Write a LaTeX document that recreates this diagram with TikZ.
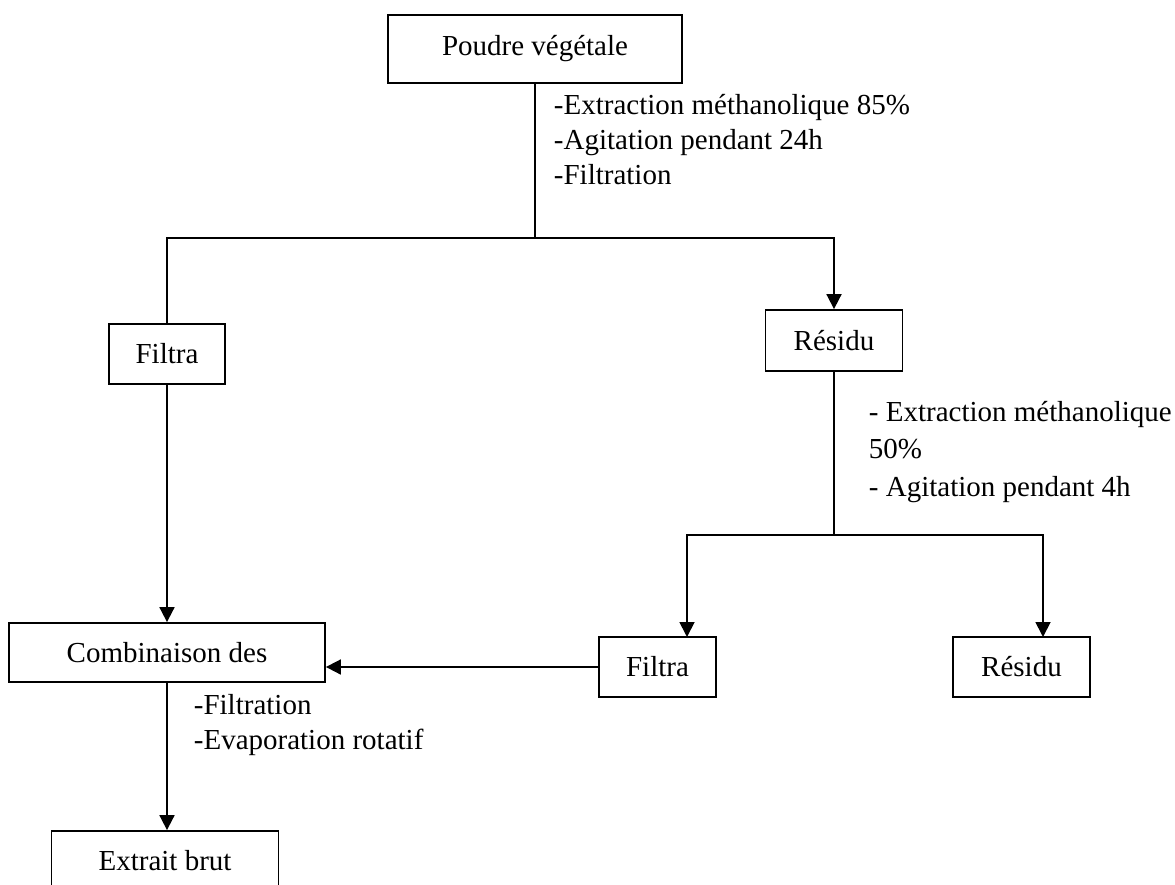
\documentclass[tikz,border=0pt]{standalone}
\usepackage{fontspec}
\setmainfont{Liberation Serif}
\usetikzlibrary{arrows.meta}

\begin{document}
\begin{tikzpicture}[x=1pt, y=-1pt, line width=1.8pt,
  box/.style={draw, inner sep=0pt, minimum height=60pt, font=\fontsize{29}{35}\selectfont},
  lab/.style={anchor=west, align=left, inner sep=0pt, font=\fontsize{29}{35}\selectfont},
  arr/.style={-{Triangle[width=15pt,length=15pt]}}]
  \useasboundingbox (0,0) rectangle (1175,885);

  % boites
  \node[box, minimum width=294pt, minimum height=68pt] (poudre) at (535,49) {Poudre végétale};
  \node[box, minimum width=116pt] (filtraA) at (167,354) {Filtra};
  \node[box, minimum width=137pt, minimum height=61pt] (residuA) at (834,340.5) {Résidu};
  \node[box, minimum width=316pt, minimum height=59pt] (combi) at (167,652.5) {Combinaison des};
  \node[box, minimum width=117pt] (filtraB) at (657.5,667) {Filtra};
  \node[box, minimum width=137pt] (residuB) at (1021.5,667) {Résidu};
  \node[box, minimum width=227pt] (extrait) at (165,861) {Extrait brut};

  % points de partage
  \coordinate (s1) at (535,238);
  \coordinate (s2) at (834,535);
  \coordinate (fb) at (687,637);   % haut de Filtra
  \coordinate (rb) at (1043,637);  % haut de Résidu

  \draw (poudre.south) -- (s1);
  \draw (s1) -| (filtraA.north);
  \draw[arr] (s1) -| (residuA.north);

  \draw (residuA.south) -- (s2);
  \draw[arr] (s2) -| (fb);
  \draw[arr] (s2) -| (rb);

  \draw[arr] (filtraA.south) -- (filtraA.south |- combi.north);
  \draw[arr] (filtraB.west) -- (filtraB.west -| combi.east);
  \draw[arr] (combi.south) -- (combi.south |- extrait.north);

  % operations
  \node[lab] (op1) at (553,140) {-Extraction méthanolique 85\%\\-Agitation pendant 24h\\-Filtration};
  \node[lab, font=\fontsize{29}{37.5}\selectfont] (op2) at (868,452) {- Extraction méthanolique\\50\%\\- Agitation pendant 4h};
  \node[lab] (op3) at (193,725.5) {-Filtration\\-Evaporation rotatif};
\end{tikzpicture}
\end{document}
